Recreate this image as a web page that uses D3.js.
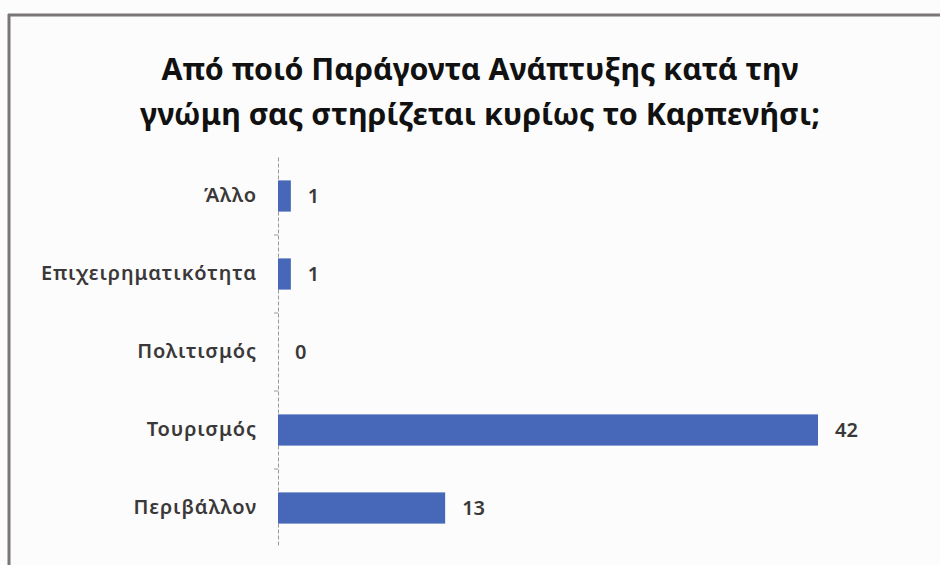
<!DOCTYPE html>
<html>
<head>
<meta charset="utf-8">
<script src="https://cdn.jsdelivr.net/npm/d3@7"></script>
<style>
  html, body { margin: 0; padding: 0; background: #fbfcfb; }
  svg { display: block; }
</style>
</head>
<body>
<svg id="chart" width="940" height="565"></svg>
<script>
const categories = ["Άλλο", "Επιχειρηματικότητα", "Πολιτισμός", "Τουρισμός", "Περιβάλλον"];
const values = [1, 1, 0, 42, 13];
const titleLines = ["Από ποιό Παράγοντα Ανάπτυξης κατά την", "γνώμη σας στηρίζεται κυρίως το Καρπενήσι;"];

const svg = d3.select("#chart");
const W = 940, H = 565;
const margin = { left: 278, right: 122, top: 157, bottom: 18 };

svg.append("rect").attr("width", W).attr("height", H).attr("fill", "#fbfcfb");

// frame lines (top and left)
svg.append("line").attr("x1", 8).attr("x2", W).attr("y1", 15).attr("y2", 15)
  .attr("stroke", "#7a7577").attr("stroke-width", 3);
svg.append("line").attr("x1", 9).attr("x2", 9).attr("y1", 14).attr("y2", H)
  .attr("stroke", "#7a7577").attr("stroke-width", 3);

// title
const titleWidths = [637, 680];
svg.append("g").selectAll("text").data(titleLines).join("text")
  .attr("x", 480)
  .attr("y", (d, i) => 80 + i * 45)
  .attr("text-anchor", "middle")
  .attr("font-family", "'Noto Sans', 'Open Sans', sans-serif")
  .attr("font-weight", 700)
  .attr("font-size", 30)
  .attr("fill", "#111")
  .attr("textLength", (d, i) => titleWidths[i])
  .attr("lengthAdjust", "spacingAndGlyphs")
  .text(d => d);

const x = d3.scaleLinear()
  .domain([0, d3.max(values)])
  .range([margin.left, W - margin.right]);

const y = d3.scaleBand()
  .domain(categories)
  .range([margin.top, H - margin.bottom])
  .paddingInner(0.6)
  .paddingOuter(0.3);

// axis
const axis = d3.axisLeft(y).tickSize(0).tickPadding(21);
const gAxis = svg.append("g").attr("transform", `translate(${margin.left},0)`).call(axis);
gAxis.select(".domain")
  .attr("stroke", "#9a9a9a").attr("stroke-width", 1).attr("stroke-dasharray", "4,2");
gAxis.selectAll("text")
  .attr("font-family", "'Noto Sans', 'Open Sans', sans-serif")
  .attr("font-weight", 600)
  .attr("font-size", 20)
  .attr("letter-spacing", "0.9px")
  .attr("fill", "#3a3838");

// boundary tick marks
const step = y.step();
const boundaries = d3.range(categories.length + 1).map(i => y.range()[0] + y.paddingOuter() * step - y.paddingInner() * step / 2 + i * step);
svg.append("g").selectAll("line").data(boundaries.slice(1, -1)).join("line")
  .attr("x1", margin.left - 4).attr("x2", margin.left)
  .attr("y1", d => d).attr("y2", d => d)
  .attr("stroke", "#9a9a9a").attr("stroke-width", 1);

// bars
svg.append("g").selectAll("rect").data(categories).join("rect")
  .attr("x", x(0))
  .attr("y", d => y(d))
  .attr("width", (d, i) => x(values[i]) - x(0))
  .attr("height", y.bandwidth())
  .attr("fill", "#4767b9");

// value labels
svg.append("g").selectAll("text").data(categories).join("text")
  .attr("x", (d, i) => x(values[i]) + 17)
  .attr("y", d => y(d) + y.bandwidth() / 2)
  .attr("dy", "0.35em")
  .attr("font-family", "'Noto Sans', 'Open Sans', sans-serif")
  .attr("font-weight", 600)
  .attr("font-size", 20)
  .attr("fill", "#3a3838")
  .text((d, i) => values[i]);
</script>
</body>
</html>
